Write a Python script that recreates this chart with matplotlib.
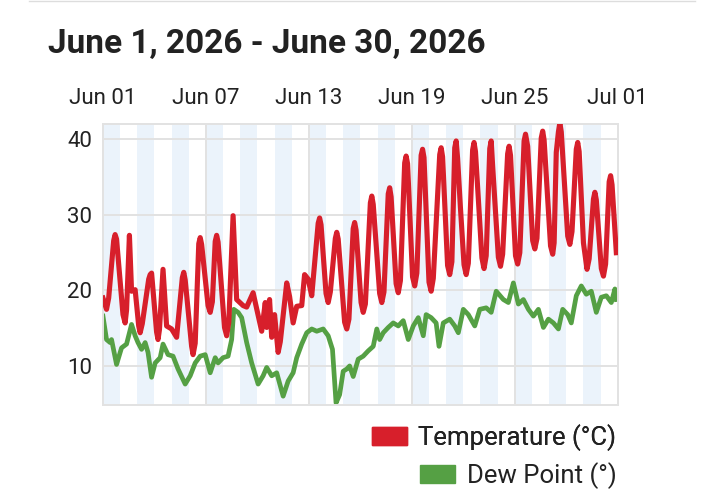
import numpy as np
import matplotlib
matplotlib.use("Agg")
import matplotlib.pyplot as plt
import matplotlib.dates as mdates
from matplotlib.patches import Patch
from matplotlib.lines import Line2D

plt.rcParams['font.family'] = ['Roboto', 'DejaVu Sans']

# readings (hours since Jun 01 00:00)
temp_hours = [0, 5, 8, 15, 17, 19, 28, 31, 33, 37, 40, 45, 50, 52, 55, 64, 66, 68, 75, 77,
              79, 84, 89, 96, 103, 111, 113, 115, 124, 126, 129, 134, 136, 138, 147, 150, 153,
              157, 159, 161, 170, 173, 176, 182, 187, 196, 201, 210, 215, 222, 227, 229, 233,
              236, 240, 245, 248, 257, 261, 266, 271, 278, 282, 287, 292, 301, 303, 305, 312,
              315, 318, 325, 327, 329, 338, 341, 344, 350, 352, 354,
              361, 364, 367, 374, 376, 378, 387, 390, 393, 399, 401, 403,
              410, 413, 416, 422, 424, 426, 433, 436, 439, 445, 447, 449,
              456, 459, 462, 471, 473, 475, 482, 485, 488, 492, 494, 496, 500, 505, 508, 511,
              517, 519, 521, 530, 533, 536, 541, 543, 545, 553, 556, 559,
              566, 568, 570, 577, 580, 583, 589, 591, 594, 601, 604, 607,
              613, 615, 617, 626, 629, 631, 634, 637, 639, 641,
              650, 653, 656, 662, 664, 666, 672, 677, 680, 686, 688, 690,
              697, 700, 703, 708, 710, 712, 718]
temp_vals = [19.0, 17.5, 19.0, 26.6, 27.4, 26.8, 16.8, 15.7, 17.4, 27.3, 19.9, 20.1, 15.3,
             14.4, 15.6, 21.5, 22.1, 22.3, 14.5, 13.5, 14.8, 22.8, 15.3, 14.9, 13.8, 21.7,
             22.4, 21.4, 12.6, 11.5, 13.0, 26.2, 27.0, 26.1, 18.0, 17.1, 18.5, 26.5, 27.3,
             26.4, 15.1, 14.0, 15.8, 29.9, 18.8, 18.0, 17.8, 19.7, 17.6, 14.6, 18.4, 15.1,
             18.8, 13.8, 16.8, 11.8, 13.2, 21.0, 19.2, 15.7, 17.9, 18.0, 22.1, 21.5, 19.3,
             28.9, 29.6, 28.7, 19.6, 18.4, 19.8, 26.9, 27.7, 26.8, 15.8, 14.9, 16.2, 28.2,
             29.0, 28.0,
             18.4, 17.1, 18.2, 31.6, 32.5, 31.4, 19.6, 18.4, 19.8, 32.8, 33.6, 32.4,
             20.9, 19.7, 21.3, 36.9, 37.8, 36.8, 21.8, 20.6, 22.3, 37.9, 38.7, 37.6,
             21.1, 19.9, 21.6, 38.0, 38.9, 37.7, 23.3, 22.1, 23.8, 38.9, 39.8, 37.5, 30.9,
             23.4, 22.1, 23.6,
             38.6, 39.6, 38.4, 24.3, 22.9, 24.6, 38.8, 39.8, 36.5, 24.4, 23.2, 24.8,
             38.1, 39.1, 37.9, 24.6, 23.5, 25.0, 39.8, 40.7, 39.1, 26.6, 25.5, 26.9,
             40.2, 41.1, 39.9, 25.9, 24.8, 26.3, 38.3, 41.0, 42.2, 41.0,
             27.2, 26.1, 27.8, 38.7, 39.6, 38.4, 26.3, 22.8, 24.2, 32.1, 33.0, 32.0,
             22.9, 21.9, 23.5, 34.4, 35.2, 34.0, 25.0]

dew_hours = [0, 5, 10, 12, 19, 26, 33, 40, 45, 49, 54, 59, 63, 68, 73, 80, 84, 91, 98, 105,
             115, 122, 129, 136, 143, 150, 157, 161, 168, 175, 180, 183, 189, 194, 201, 208,
             217, 224, 229, 236, 243, 252, 259, 266, 271, 278, 285, 292, 299, 308, 315, 321,
             326, 331, 336, 341, 345, 350, 357, 364, 371, 378, 383, 387, 392, 399, 406, 413,
             420, 427, 434, 441, 448, 452, 459, 466, 470, 476, 485, 492, 497, 504, 511, 520,
             527, 536, 543, 550, 560, 567, 574, 581, 588, 595, 602, 609, 616, 623, 630, 637,
             643, 650, 655, 662, 669, 676, 683, 690, 697, 704, 711, 716, 718]
dew_vals = [16.6, 13.5, 13.1, 13.5, 10.2, 12.4, 12.9, 15.5, 14.0, 13.1, 12.2, 13.1, 11.8,
            8.5, 10.4, 11.1, 12.9, 11.5, 11.3, 9.6, 7.6, 8.7, 10.4, 11.3, 11.5, 9.1, 11.1,
            10.4, 11.1, 11.3, 13.5, 17.5, 17.1, 16.4, 13.1, 10.4, 7.6, 8.7, 9.8, 8.7, 9.1,
            6.0, 8.0, 9.1, 11.1, 12.9, 14.4, 14.9, 14.6, 14.9, 14.0, 12.2, 5.1, 6.2, 9.3,
            9.6, 10.0, 8.6, 10.9, 11.3, 12.0, 12.6, 14.9, 13.5, 14.4, 15.1, 15.7, 15.3, 16.0,
            13.5, 15.3, 16.4, 14.0, 16.8, 16.4, 15.7, 12.6, 15.7, 16.2, 15.3, 14.4, 17.5,
            16.8, 15.3, 17.5, 17.7, 17.1, 19.9, 18.8, 18.4, 21.0, 18.2, 18.8, 17.5, 16.6,
            17.5, 15.1, 16.2, 15.7, 14.9, 17.5, 16.8, 15.7, 19.3, 20.6, 19.5, 19.9, 17.1,
            19.1, 19.3, 18.4, 20.2, 18.8]

tick_dates = ['2026-06-01', '2026-06-07', '2026-06-13', '2026-06-19', '2026-06-25', '2026-07-01']
title = 'June 1, 2026 - June 30, 2026'

red = '#d71f2b'
green = '#55a044'
band = '#ebf3fb'
grid = '#e2e2e2'
txt = '#222222'

start = np.datetime64('2026-06-01T00:00')
t_temp = start + np.array(temp_hours, dtype='timedelta64[h]')
t_dew = start + np.array(dew_hours, dtype='timedelta64[h]')

fig = plt.figure(figsize=(7.2, 4.9), dpi=100)
ax = fig.add_axes([0.143, 0.173, 0.715, 0.574])

# alternate day shading
for d in range(0, 30, 2):
    ax.axvspan(start + np.timedelta64(d, 'D'), start + np.timedelta64(d + 1, 'D'),
               color=band, lw=0, zorder=0)

ax.plot(t_temp, temp_vals, color=red, lw=3.7, solid_joinstyle='round', zorder=3)
ax.plot(t_dew, dew_vals, color=green, lw=3.4, solid_joinstyle='round', zorder=2)

ax.set_xlim(start, start + np.timedelta64(30, 'D'))
ax.set_ylim(4.8, 42.05)
ax.set_yticks([10, 20, 30, 40])
ax.set_xticks([np.datetime64(d) for d in tick_dates])
ax.xaxis.set_major_formatter(mdates.DateFormatter('%b %d'))
ax.xaxis.tick_top()
ax.tick_params(axis='both', length=0, labelsize=16, labelcolor=txt)
ax.tick_params(axis='x', pad=11)
ax.tick_params(axis='y', pad=8)
ax.grid(True, color=grid, lw=1.4, zorder=1)
ax.set_axisbelow(True)
for s in ax.spines.values():
    s.set_color(grid)
    s.set_linewidth(1.4)

fig.text(0.066, 0.91, title, fontsize=24, fontweight='bold', color=txt, va='center')

# legend, right-aligned rows
leg_kw = dict(loc='center right', frameon=False, fontsize=18.5, handlelength=1.35,
              handleheight=0.7, handletextpad=0.45, borderpad=0, labelcolor=txt)
leg1 = fig.legend(handles=[Patch(color=red, label='Temperature (°C)')],
                  bbox_to_anchor=(0.874, 0.108), **leg_kw)
fig.legend(handles=[Patch(color=green, label='Dew Point (°)')],
           bbox_to_anchor=(0.874, 0.029), **leg_kw)
fig.add_artist(leg1)

# faint page rule at the very top
fig.add_artist(Line2D([0.04, 0.965], [0.997, 0.997], color='#dddddd', lw=1))

fig.savefig('out.png', dpi=100)
